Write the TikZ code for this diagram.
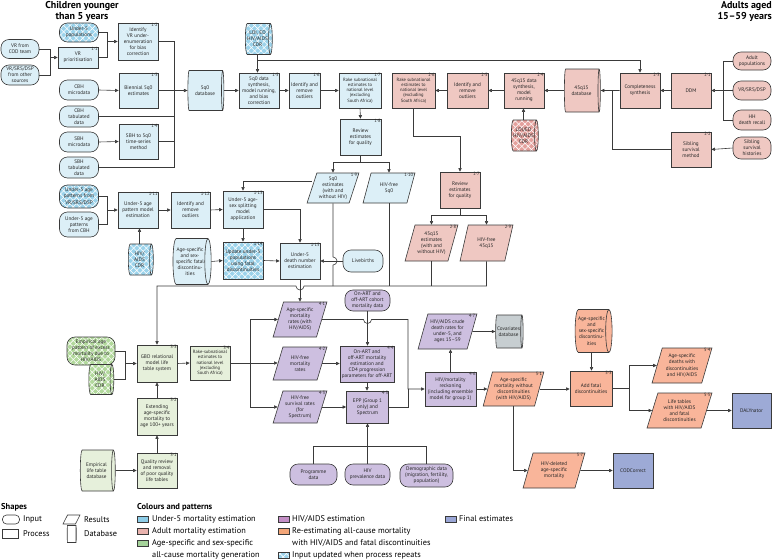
\documentclass[tikz,border=0pt]{standalone}
\usepackage{fontspec}
\setmainfont{PT Sans}
\usetikzlibrary{shapes.geometric,shapes.misc,arrows.meta,patterns.meta}
\definecolor{bluF}{HTML}{DCEFF7}
\definecolor{bluP}{HTML}{9CD3EB}
\definecolor{pinkF}{HTML}{EFC8C2}
\definecolor{pinkP}{HTML}{E4A09C}
\definecolor{grnF}{HTML}{E6F0DB}
\definecolor{grnP}{HTML}{B2D99C}
\definecolor{purF}{HTML}{CDBFE0}
\definecolor{orgF}{HTML}{F9B59A}
\definecolor{finF}{HTML}{9DAAD6}
\definecolor{covF}{HTML}{C7CED1}
\definecolor{edge}{HTML}{3A3A3A}
\definecolor{lgBlue}{HTML}{8DCDE8}
\definecolor{lgPink}{HTML}{E9B3AE}
\definecolor{lgGreen}{HTML}{A5D39A}
\definecolor{lgPurple}{HTML}{C48FC6}
\definecolor{lgOrange}{HTML}{F4A678}
\definecolor{lgFinal}{HTML}{9AA6D6}
\tikzset{
 base/.style={draw=edge, line width=0.6pt, align=center, inner sep=0.5pt, font=\fontsize{5.2}{6.1}\selectfont, text=black!85},
 small/.style={font=\fontsize{4.6}{5.3}\selectfont},
 sz/.style 2 args={minimum width=#1pt, minimum height=#2pt},
 proc/.style={base, rectangle},
 inp/.style={base, rectangle, rounded corners=8pt},
 res/.style={base, trapezium, trapezium left angle=70, trapezium right angle=110, trapezium stretches=true},
 dbs/.style={base, cylinder, shape border rotate=0, aspect=0.22},
 patt/.style={preaction={fill=#1}, preaction={pattern={Lines[angle=45,distance=4.5pt,line width=0.55pt]}, pattern color=white}, preaction={pattern={Lines[angle=-45,distance=4.5pt,line width=0.55pt]}, pattern color=white}},
 numlab/.style={font=\fontsize{4.6}{5}\selectfont, inner sep=0.4pt, anchor=north east, text=black!85},
 ln/.style={draw=edge, line width=0.6pt},
 arr/.style={ln, -{Triangle[length=3.6pt,width=3.2pt]}},
 hdr/.style={font=\fontsize{10}{11}\selectfont\bfseries},
 leg/.style={font=\fontsize{8.3}{10}\selectfont, anchor=west, inner sep=0pt},
 legh/.style={font=\fontsize{8.5}{10}\selectfont\bfseries, anchor=west, inner sep=0pt},
 sq/.style={draw=edge, line width=0.5pt, minimum width=11pt, minimum height=6.5pt, inner sep=0pt},
}
\newcommand{\boxnum}[2]{\node[numlab] (#1-n) at (#1.north east) {#2};}
\newcommand{\parnum}[2]{\node[numlab] (#1-n) at ([xshift=-1.5pt]#1.top right corner) {#2};}
\begin{document}
\begin{tikzpicture}[x=1pt,y=-1pt]
\useasboundingbox (0,0) rectangle (772,560);
% headers
\node[hdr, align=center, inner sep=0pt] (hC) at (82,11) {Children younger\\than 5 years};
\node[hdr, align=right, anchor=east, inner sep=0pt] (hA) at (772,11) {Adults aged\\15–59 years};
% ---------- under-5 ----------
\node[inp, fill=bluF, sz={38}{19}] (vrcod) at (20,49) {VR from\\COD team};
\node[inp, fill=bluF, sz={38}{20}] (vrsrs) at (20,75) {VR/SRS/DSP\\from other\\sources};
\node[inp, patt=bluP, sz={39}{19}] (u5pop) at (79,32.5) {Under-5\\populations};
\node[proc, fill=bluF, sz={40}{21}] (b11) at (78,57.5) {VR\\prioritisation};
\node[proc, fill=bluF, sz={40}{37}] (b12) at (138,41.5) {Identify\\VR under-\\enumeration\\for bias\\correction};
\node[inp, fill=bluF, sz={39}{20}] (cbhm) at (79,90) {CBH\\microdata};
\node[proc, fill=bluF, sz={39}{35}] (b13) at (138.5,90.5) {Biennial 5q0\\estimates};
\node[inp, fill=bluF, sz={39}{21}] (cbht) at (79,116.5) {CBH\\tabulated\\data};
\node[inp, fill=bluF, sz={39}{20}] (sbhm) at (79,142) {SBH\\microdata};
\node[proc, fill=bluF, sz={39}{35}] (b14) at (138.5,141.5) {SBH to 5q0\\time-series\\method};
\node[inp, fill=bluF, sz={39}{21}] (sbht) at (79,167.5) {SBH\\tabulated\\data};
\node[dbs, fill=bluF, sz={40}{36}] (dbu5) at (205,90.5) {5q0\\database};
\node[dbs, patt=bluP, sz={31}{24}] (ldi1) at (257.5,39) {LDI, ED\\HIV/AIDS\\CDR};
\node[proc, fill=bluF, sz={40}{35}] (b15) at (259,90.5) {5q0 data\\synthesis,\\model running,\\and bias\\correction};
\node[proc, fill=bluF, sz={31}{35}] (b16) at (304.5,90.5) {Identify and\\remove\\outliers};
\node[proc, fill=bluF, small, sz={42}{35}] (b17) at (360,90.5) {Rake subnational\\estimates to\\national level\\(excluding\\South Africa)};
\node[proc, fill=bluF, sz={41}{36}] (b18) at (360.5,137) {Review\\estimates\\for quality};
\node[res, fill=bluF, sz={52}{30}] (r19) at (333,188) {5q0\\estimates\\(with and\\without HIV)};
\node[res, fill=bluF, sz={52}{30}] (r110) at (389,188) {HIV-free\\5q0};
\node[inp, patt=bluP, sz={39}{23}] (u5ap1) at (79,196.5) {Under-5 age\\patterns from\\VR/SRS/DSP};
\node[inp, fill=bluF, sz={39}{25}] (u5ap2) at (79,224.5) {Under-5 age\\patterns\\from CBH};
\node[proc, fill=bluF, sz={40}{36}] (b111) at (138,210) {Under-5 age\\pattern model\\estimation};
\node[proc, fill=bluF, sz={39}{36}] (b112) at (190.5,210) {Identify and\\remove\\outliers};
\node[proc, fill=bluF, sz={40}{37}] (b113) at (243,209.5) {Under-5 age-\\sex splitting\\model\\application};
\node[dbs, patt=bluP, sz={31}{25}] (hivcdr1) at (139.5,259.5) {HIV/\\AIDS\\CDR};
\node[dbs, fill=bluF, sz={46}{37}] (fatal1) at (190,261.5) {Age-specific\\and sex-\\specific fatal\\discontinu-\\ities};
\node[proc, patt=bluP, sz={40}{37}] (b114) at (243,260.5) {Update under-5\\populations\\using fatal\\discontinuities};
\node[proc, fill=bluF, sz={40}{36}] (b115) at (300,261) {Under-5\\death number\\estimation};
\node[inp, fill=bluF, sz={40}{22}] (live) at (363,261) {Livebirths};
% ---------- adults ----------
\node[inp, fill=pinkF, sz={38}{18}] (apop) at (752,61) {Adult\\populations};
\node[inp, fill=pinkF, sz={38}{19}] (avr) at (752,90.5) {VR/SRS/DSP};
\node[inp, fill=pinkF, sz={38}{20}] (ahh) at (752,120) {HH\\death recall};
\node[inp, fill=pinkF, sz={38}{22}] (asib) at (752,148) {Sibling\\survival\\histories};
\node[proc, fill=pinkF, sz={40}{35}] (a21) at (691,90.5) {DDM};
\node[proc, fill=pinkF, sz={40}{35}] (a22) at (691,149.5) {Sibling\\survival\\method};
\node[proc, fill=pinkF, sz={40}{35}] (a23) at (640,90.5) {Completeness\\synthesis};
\node[dbs, fill=pinkF, sz={43}{36}] (db45) at (581.5,90.5) {45q15\\database};
\node[proc, fill=pinkF, sz={40}{35}] (a24) at (524,90.5) {45q15 data\\synthesis,\\model\\running};
\node[dbs, patt=pinkP, sz={31}{25}] (ldi2) at (523.5,135.5) {LDI/ED\\HIV/AIDS\\CDR};
\node[proc, fill=pinkF, sz={41}{35}] (a25) at (467.5,90.5) {Identify and\\remove\\outliers};
\node[proc, fill=pinkF, small, sz={43}{35}] (a26) at (413.5,90.5) {Rake subnational\\estimates to\\national level\\(excluding\\South Africa)};
\node[proc, fill=pinkF, sz={40}{36}] (a27) at (460,190) {Review\\estimates\\for quality};
\node[res, fill=pinkF, sz={53}{36}] (r28) at (431.5,243) {45q15\\estimates\\(with and\\without HIV)};
\node[res, fill=pinkF, sz={53}{36}] (r29) at (486.5,243) {HIV-free\\45q15};
% ---------- green ----------
\node[inp, patt=grnP, sz={48}{28}] (emp) at (91,351) {Empirical age\\pattern of excess\\mortality due to\\HIV/AIDS};
\node[dbs, patt=grnP, sz={30}{25}] (hivcdr3) at (100,379.5) {HIV/\\AIDS\\CDR};
\node[proc, fill=grnF, sz={40}{37}] (g33) at (157,363.5) {GBD relational\\model life\\table system};
\node[proc, fill=grnF, small, sz={40}{34}] (g34) at (210,363) {Rake-subnational\\estimates to\\national level\\(excluding\\South Africa)};
\node[proc, fill=grnF, sz={40}{37}] (g32) at (157,416.5) {Extending\\age-specific\\mortality to\\age 100+ years};
\node[proc, fill=grnF, sz={40}{35}] (g31) at (157,470.5) {Quality review\\and removal\\of poor quality\\life tables};
\node[dbs, fill=grnF, sz={41}{35}] (empdb) at (96.5,470.5) {Empirical\\life table\\database};
% ---------- purple ----------
\node[res, fill=purF, sz={54}{35}] (r41) at (300,319.5) {Age-specific\\mortality\\rates (with\\HIV/AIDS)};
\node[res, fill=purF, sz={54}{33}] (r42) at (300,363.5) {HIV-free\\mortality\\rates};
\node[res, fill=purF, sz={54}{32}] (r43) at (300,407) {HIV-free\\survival rates\\(for\\Spectrum)};
\node[inp, fill=purF, sz={45}{21}] (onart) at (367.5,300.5) {On-ART and\\off-ART cohort\\mortality data};
\node[proc, fill=purF, sz={54}{36}] (p44) at (367,364) {On-ART and\\off-ART mortality\\estimation and\\CD4 progression\\parameters for off-ART};
\node[proc, fill=purF, sz={42}{32}] (p45) at (367.5,407) {EPP (Group 1\\only) and\\Spectrum};
\node[proc, fill=purF, sz={51}{34}] (p46) at (450.5,389) {HIV/mortality\\reckoning\\(including ensemble\\model for group 1)};
\node[res, fill=purF, sz={59}{35}] (r47) at (447.5,331.5) {HIV/AIDS crude\\death rates for\\under-5, and\\ages 15–59};
\node[dbs, fill=covF, sz={33}{23}] (cov) at (508.5,331.5) {Covariates\\database};
\node[inp, fill=purF, sz={47}{21}] (prog) at (313.5,474.5) {Programme\\data};
\node[inp, fill=purF, sz={45}{21}] (hivp) at (367.5,474.5) {HIV\\prevalence data};
\node[inp, fill=purF, sz={53}{23}] (demo) at (426.5,475.5) {Demographic data\\(migration, fertility,\\population)};
% ---------- orange / final ----------
\node[dbs, fill=orgF, sz={43}{36}] (fatal2) at (591.5,331) {Age-specific\\and\\sex-specific\\discontinu-\\ities};
\node[res, fill=orgF, sz={61}{34}] (r51) at (513.5,389) {Age-specific\\mortality without\\discontinuities\\(with HIV/AIDS)};
\node[proc, fill=orgF, sz={42}{35}] (o53) at (591,388.5) {Add fatal\\discontinuities};
\node[res, fill=orgF, sz={60}{35}] (r54) at (682,365.5) {Age-specific\\deaths with\\discontinuities\\and HIV/AIDS};
\node[res, fill=orgF, sz={65}{35}] (r55) at (679.5,410.5) {Life tables\\with HIV/AIDS\\and fatal\\discontinuities};
\node[res, fill=orgF, sz={62}{35}] (r57) at (554,470.5) {HIV-deleted\\age-specific\\mortality};
\node[proc, fill=finF, sz={39}{35}] (daly) at (751.5,410.5) {DALYnator};
\node[proc, fill=finF, sz={40}{35}] (codc) at (633,470.5) {CODCorrect};
% numbers
\boxnum{b11}{1·1}\boxnum{b12}{1·2}\boxnum{b13}{1·3}\boxnum{b14}{1·4}\boxnum{b15}{1·5}
\boxnum{b16}{1·6}\boxnum{b17}{1·7}\boxnum{b18}{1·8}\parnum{r19}{1·9}\parnum{r110}{1·10}
\boxnum{b111}{1·11}\boxnum{b112}{1·12}\boxnum{b113}{1·13}\boxnum{b114}{1·14}\boxnum{b115}{1·15}
\boxnum{a21}{2·1}\boxnum{a22}{2·2}\boxnum{a23}{2·3}\boxnum{a24}{2·4}\boxnum{a25}{2·5}
\boxnum{a26}{2·6}\boxnum{a27}{2·7}\parnum{r28}{2·8}\parnum{r29}{2·9}
\boxnum{g31}{3·1}\boxnum{g32}{3·2}\boxnum{g33}{3·3}\boxnum{g34}{3·4}
\parnum{r41}{4·1}\parnum{r42}{4·2}\parnum{r43}{4·3}\boxnum{p44}{4·4}\boxnum{p45}{4·5}
\boxnum{p46}{4·6}\parnum{r47}{4·7}
\parnum{r51}{5·1}\boxnum{o53}{5·3}\parnum{r54}{5·4}\parnum{r55}{5·5}\parnum{r57}{5·7}
% ---------- coordinates ----------
\coordinate (jA) at (50,57.5);
\coordinate (jB) at (107,41.5);
\coordinate (jC) at (174,90.5);
\coordinate (jE) at (107,210);
\coordinate (ytop) at (0,60.7);
\coordinate (jD) at (360.5,162.7);
\coordinate (jF) at (723,90.5);
\coordinate (jG) at (612,90.5);
\coordinate (ymid) at (0,136.7);
\coordinate (jI) at (460,215.7);
\coordinate (yc) at (0,286);
\coordinate (hop1) at (304,286);
\coordinate (hop2) at (333,257);
\coordinate (hop3) at (363.5,319.5);
\coordinate (x408) at (408,0);
\coordinate (j34) at (250,363);
\coordinate (y446) at (0,446);
\coordinate (jJ) at (125,363.5);
\coordinate (j53) at (629,388.5);
% ---------- connectors: under-5 ----------
\draw[ln] (vrcod.east) -| (jA);
\draw[ln] (vrsrs.east) -| (jA);
\draw[arr] (jA) -- (b11.west);
\draw[ln] (u5pop.east) -| (jB);
\draw[ln] (b11.east) -| (jB);
\draw[arr] (jB) -- (b12.west);
\draw[arr] (cbhm.east) -- (b13.west);
\draw[arr] (sbhm.east) -- (b14.west);
\draw[ln] (b12.east) -| (jC);
\draw[ln] (cbht.east) -| (jC);
\draw[ln] (b14.east) -| (jC);
\draw[ln] (sbht.east) -| (jC);
\draw[arr] (b13.east) -- (dbu5.west);
\draw[arr] (dbu5.east) -- (b15.west);
\draw[arr] (ldi1.south) -- (ldi1.south |- b15.north);
\draw[arr] (ldi1.south |- ytop) -| (a23.north);
\draw[arr] (b15.east) -- (b16.west);
\draw[arr] (b16.east) -- (b17.west);
\draw[arr] (b17.south) -- (b18.north);
\draw[ln] (b18.south) -- (jD);
\draw[arr] (jD) -| (r19.center |- r19.north);
\draw[arr] (jD) -| (r110.center |- r110.north);
\draw[arr] ([yshift=7pt]r19.west) -| (b113.north);
\draw[ln] (u5ap1.east) -| (jE);
\draw[ln] (u5ap2.east) -| (jE);
\draw[arr] (jE) -- (b111.west);
\draw[arr] (hivcdr1.north) -- (hivcdr1.north |- b111.south);
\draw[arr] (b111.east) -- (b112.west);
\draw[arr] (b112.east) -- (b113.west);
\draw[arr] (b113.south) -- (b114.north);
\draw[arr] (fatal1.east) -- (b114.west);
\draw[arr] (b114.east) -- (b115.west);
\draw[arr] (b113.east) -| (b115.north);
\draw[arr] (live.west) -- (b115.east);
% ---------- connectors: adults ----------
\draw[ln] (apop.west) -| (jF);
\draw[ln] (ahh.west) -| (jF);
\draw[arr] (avr.west) -- (a21.east);
\draw[arr] (a21.west) -- (a23.east);
\draw[arr] (a23.west) -- (db45.east);
\draw[arr] (asib.west) -- (a22.east);
\draw[ln] (a22.west) -| (jG);
\draw[arr] (db45.west) -- (a24.east);
\draw[arr] (ldi2.north) -- (ldi2.north |- a24.south);
\draw[arr] (a24.west) -- (a25.east);
\draw[arr] (a25.west) -- (a26.east);
\draw[arr] (a26.south) |- (a27.north |- ymid) -- (a27.north);
\draw[ln] (a27.south) -- (jI);
\draw[arr] (jI) -| (r28.center |- r28.north);
\draw[arr] (jI) -| (r29.center |- r29.north);
% ---------- collector to life table system ----------
\draw[arr] (r29.center |- r29.south) -- (r29.center |- yc) -- (hop1) arc[start angle=0,end angle=-180,radius=4pt] -- (g33.north |- yc) -- (g33.north);
\draw[ln] (r28.center |- r28.south) -- (r28.center |- yc);
\draw[ln] (r110.center |- r110.south) -- (r110.center |- yc);
\draw[ln] (r19.center |- r19.south) -- (hop2) arc[start angle=90,end angle=-90,radius=4pt] -- (r19.center |- yc);
\draw[arr] (b115.south) -- (b115.south |- r41.north);
% ---------- green ----------
\draw[ln] (emp.east) -| (jJ);
\draw[ln] (hivcdr3.east) -| (jJ);
\draw[arr] (jJ) -- (g33.west);
\draw[arr] (g33.east) -- (g34.west);
\draw[arr] (g32.north) -- (g33.south);
\draw[arr] (g31.north) -- (g32.south);
\draw[arr] (empdb.east) -- (g31.west);
% ---------- purple ----------
\draw[arr] (g34.east) -- (g34.east -| r42.west);
\draw[arr] (j34) |- (r41.west);
\draw[arr] (j34) |- (r43.west);
\draw[arr] (r42.east) -- (r42.east -| p44.west);
\draw[arr] (r43.east) -- (r43.east -| p45.west);
\draw[arr] (onart.south) -- (onart.south |- p44.north);
\draw[arr] (p44.south) -- (p44.south |- p45.north);
\draw[arr] (r41.east) -- (hop3) arc[start angle=180,end angle=360,radius=4pt] -- (r41.east -| x408) |- (p46.west);
\draw[ln] (p45.east) -| (x408 |- p46.west);
\draw[ln] (prog.north) |- (demo.north |- y446) -- (demo.north);
\draw[arr] (hivp.north) -- (hivp.north |- p45.south);
\draw[arr] (p46.north) -- (p46.north |- r47.south);
\draw[arr] (r47.east) -- (cov.west);
% ---------- orange ----------
\draw[arr] (p46.east) -- (p46.east -| r51.west);
\draw[arr] (r51.east) -- (r51.east -| o53.west);
\draw[arr] (fatal2.south) -- (fatal2.south |- o53.north);
\draw[ln] (o53.east) -- (j53);
\draw[arr] (j53) |- (r54.west);
\draw[arr] (j53) |- (r55.west);
\draw[arr] (r55.east) -- (daly.west);
\draw[arr] (r51.center |- r51.south) |- (r57.west);
\draw[arr] (r57.east) -- (codc.west);
% ---------- legend ----------
\node[legh] (lgS) at (1,507) {Shapes};
\node[base, rectangle, rounded corners=4pt, sz={17}{9}] (lgI) at (11,519.5) {};
\node[leg] (lgIt) at (23,519.5) {Input};
\node[base, rectangle, sz={16}{9}] (lgP) at (10,534) {};
\node[leg] (lgPt) at (23,534) {Process};
\node[base, trapezium, trapezium left angle=60, trapezium right angle=120, trapezium stretches=true, sz={17}{9}] (lgR) at (71.5,519.5) {};
\node[leg] (lgRt) at (84,519.5) {Results};
\node[base, cylinder, shape border rotate=0, aspect=0.3, sz={17}{9}] (lgD) at (71.5,534) {};
\node[leg] (lgDt) at (84,534) {Database};
\node[legh] (lgC) at (137,507) {Colours and patterns};
\node[sq, fill=lgBlue] (sq1) at (142.5,519) {};
\node[leg] (sq1t) at (152,519) {Under-5 mortality estimation};
\node[sq, fill=lgPink] (sq2) at (142.5,531) {};
\node[leg] (sq2t) at (152,531) {Adult mortality estimation};
\node[sq, fill=lgGreen] (sq3) at (142.5,543) {};
\node[leg] (sq3t) at (152,543) {Age-specific and sex-specific};
\node[leg] (sq3u) at (152,555) {all-cause mortality generation};
\node[sq, fill=lgPurple] (sq4) at (284,519) {};
\node[leg] (sq4t) at (292,519) {HIV/AIDS estimation};
\node[sq, fill=lgOrange] (sq5) at (284,531) {};
\node[leg] (sq5t) at (292,531) {Re-estimating all-cause mortality};
\node[leg] (sq5u) at (292,543) {with HIV/AIDS and fatal discontinuities};
\node[sq, patt=bluP] (sq6) at (284,555) {};
\node[leg] (sq6t) at (292,555) {Input updated when process repeats};
\node[sq, fill=lgFinal] (sq7) at (451,519) {};
\node[leg] (sq7t) at (459,519) {Final estimates};
\end{tikzpicture}
\end{document}
